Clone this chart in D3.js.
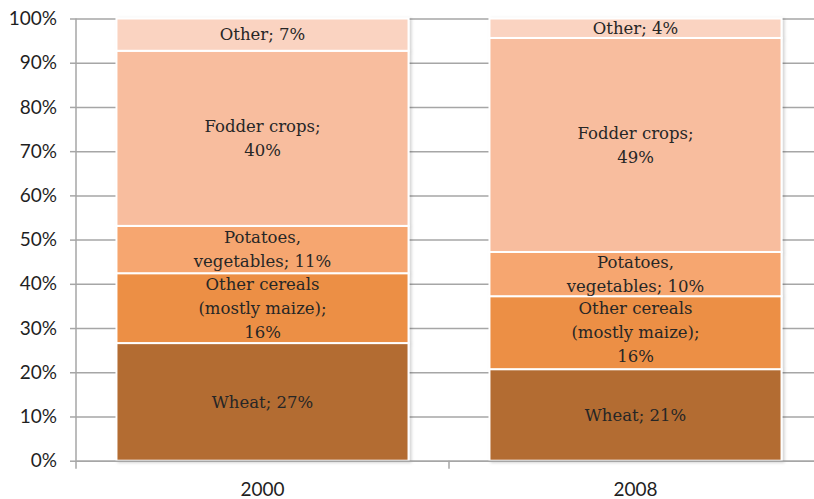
<!DOCTYPE html>
<html>
<head>
<meta charset="utf-8">
<script src="https://cdn.jsdelivr.net/npm/d3@7/dist/d3.min.js"></script>
<style>
  body { margin: 0; background: #fff; }
  svg { display: block; }
  .seg-label { font-family: "DejaVu Serif", serif; font-size: 16.5px; fill: #262626; }
  .axis text { font-family: Lato, "Liberation Sans", sans-serif; font-size: 19px; fill: #1f1f1f; }
</style>
</head>
<body>
<svg width="814" height="499"></svg>
<script>
// years on the x axis
var years = ["2000", "2008"];

// crop groups, bottom to top
var crops = ["Wheat", "Other cereals", "Potatoes, vegetables", "Fodder crops", "Other"];
var colours = ["#b36c33", "#ec8f44", "#f6a66f", "#f8bd9e", "#fad3c1"];

// share of each crop (%)
var share2000 = [26.6, 15.8, 10.7, 39.6, 7.3];
var share2008 = [20.7, 16.5, 10.0, 48.4, 4.4];

// percentages printed in the labels
var pct2000 = [27, 16, 11, 40, 7];
var pct2008 = [21, 16, 10, 49, 4];

// how each label is split over lines ({p} = the percentage)
var labelLines = [
  ["Wheat; {p}%"],
  ["Other cereals", "(mostly maize);", "{p}%"],
  ["Potatoes,", "vegetables; {p}%"],
  ["Fodder crops;", "{p}%"],
  ["Other; {p}%"]
];

var yTicks = [0, 10, 20, 30, 40, 50, 60, 70, 80, 90, 100];

var svg = d3.select("svg");

var plot = { left: 76, right: 822, top: 18.5, bottom: 460.7 };

var x = d3.scaleBand()
  .domain(years)
  .range([plot.left, plot.right])
  .padding(0);

var y = d3.scaleLinear()
  .domain([0, 100])
  .range([plot.bottom, plot.top]);

var barWidth = x.bandwidth() * 0.783;

// build stack rows
var rows = years.map(function(yr, i) {
  var row = { year: yr };
  var s = i === 0 ? share2000 : share2008;
  crops.forEach(function(c, j) { row[c] = s[j]; });
  return row;
});
var pcts = { "2000": pct2000, "2008": pct2008 };

var stack = d3.stack().keys(crops);
var series = stack(rows);

// shadow like the original
var defs = svg.append("defs");
var f = defs.append("filter").attr("id", "shadow")
  .attr("x", "-5%").attr("y", "-5%").attr("width", "115%").attr("height", "115%");
f.append("feDropShadow")
  .attr("dx", 2).attr("dy", 1)
  .attr("stdDeviation", 1.5)
  .attr("flood-color", "#000")
  .attr("flood-opacity", 0.18);

// gridlines
svg.append("g")
  .attr("class", "grid")
  .attr("transform", "translate(" + plot.left + ",0)")
  .call(d3.axisLeft(y).tickValues(yTicks).tickSize(-(plot.right - plot.left)).tickFormat(""))
  .call(function(g) {
    g.select(".domain").remove();
    g.selectAll("line").attr("stroke", "#a6a6a6").attr("stroke-width", 1.5);
  });

// bars
var barG = svg.append("g").attr("filter", "url(#shadow)");
series.forEach(function(s, j) {
  barG.selectAll(null)
    .data(s)
    .enter()
    .append("rect")
    .attr("x", function(d) { return x(d.data.year) + (x.bandwidth() - barWidth) / 2; })
    .attr("y", function(d) { return y(d[1]); })
    .attr("width", barWidth)
    .attr("height", function(d) { return y(d[0]) - y(d[1]); })
    .attr("fill", colours[j])
    .attr("stroke", "#fff")
    .attr("stroke-width", 2);
});

// segment labels
var lineH = 24;
series.forEach(function(s, j) {
  s.forEach(function(d) {
    var yr = d.data.year;
    var p = pcts[yr][j];
    var lines = labelLines[j].map(function(t) { return t.replace("{p}", p); });
    var cy = (y(d[0]) + y(d[1])) / 2;
    var startY = cy - (lines.length - 1) * lineH / 2;
    var t = svg.append("text")
      .attr("class", "seg-label")
      .attr("text-anchor", "middle")
      .attr("x", x(yr) + x.bandwidth() / 2)
      .attr("y", startY)
      .attr("dy", "0.35em");
    lines.forEach(function(l, k) {
      t.append("tspan")
        .attr("x", x(yr) + x.bandwidth() / 2)
        .attr("y", startY + k * lineH)
        .attr("dy", "0.35em")
        .text(l);
    });
  });
});

// y axis
svg.append("g")
  .attr("class", "axis axis--y")
  .attr("transform", "translate(" + plot.left + ",0)")
  .call(d3.axisLeft(y).tickValues(yTicks).tickSize(6).tickPadding(13)
    .tickFormat(function(d) { return d + "%"; }))
  .call(function(g) {
    g.select(".domain").remove();
    g.selectAll("line").attr("stroke", "#a6a6a6").attr("stroke-width", 1.5);
  });

svg.append("line")
  .attr("x1", plot.left).attr("x2", plot.left)
  .attr("y1", plot.top).attr("y2", plot.bottom + 8)
  .attr("stroke", "#a6a6a6").attr("stroke-width", 1.5);

// x axis
var xAxis = svg.append("g")
  .attr("class", "axis axis--x")
  .attr("transform", "translate(0," + plot.bottom + ")")
  .call(d3.axisBottom(x).tickSize(0).tickPadding(22))
  .call(function(g) {
    g.select(".domain").attr("stroke", "#a6a6a6").attr("stroke-width", 1.5);
  });

// category boundary ticks
xAxis.selectAll(".bound")
  .data(years.slice(1))
  .enter()
  .append("line")
  .attr("class", "bound")
  .attr("x1", function(d) { return x(d); })
  .attr("x2", function(d) { return x(d); })
  .attr("y1", 0).attr("y2", 8)
  .attr("stroke", "#a6a6a6").attr("stroke-width", 1.5);
</script>
</body>
</html>
